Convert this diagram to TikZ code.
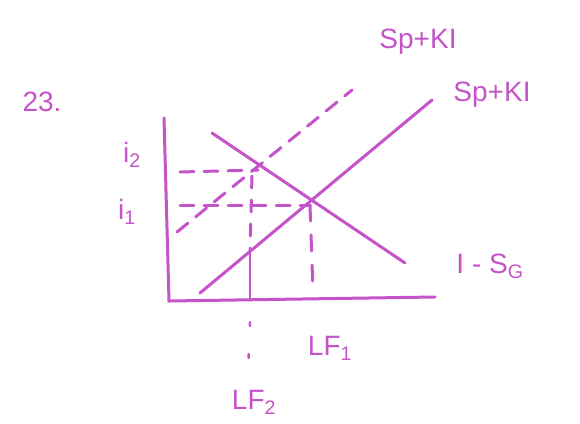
\documentclass[tikz,border=0pt]{standalone}
\usepackage{fontspec}
\setmainfont{Liberation Sans}
\begin{document}
\begin{tikzpicture}[x=1pt,y=-1pt,
  ink/.style={draw=pen,line width=3pt,line cap=round},
  dsh/.style={ink,dash pattern=on 14pt off 10pt},
  lbl/.style={text=pen,font=\fontsize{28}{28}\selectfont,inner sep=0pt}]
\definecolor{pen}{RGB}{196,84,200}
\useasboundingbox[fill=white] (0,0) rectangle (580,423);
% axes
\coordinate (ytop) at (164,118);
\coordinate (orig) at (169,301);
\coordinate (xend) at (435,297);
\draw[ink] (ytop) -- (orig) -- (xend);
% I - S_G
\coordinate (is1) at (212,133);
\coordinate (is2) at (405,263);
\draw[ink] (is1) -- (is2);
% Sp+KI solid
\coordinate (sk1) at (200,293);
\coordinate (sk2) at (432,100);
\draw[ink] (sk1) -- (sk2);
% Sp+KI dashed
\coordinate (dk1) at (177,232);
\coordinate (dk2) at (352,90);
\draw[dsh] (dk1) -- (dk2);
% equilibrium points
\coordinate (e1) at (310,205);
\coordinate (e2) at (258,170);
\coordinate (i1a) at (180,205);
\coordinate (i2a) at (180,172);
\draw[dsh] (i1a) -- (e1);
\draw[dsh] (i2a) -- (e2);
\coordinate (e1b) at (313,292);
\draw[ink,dash pattern=on 16pt off 14pt] (e1) -- (e1b);
\coordinate (v2top) at (252,176);
\coordinate (v2mid) at (250,250);
\coordinate (v2bot) at (250,300);
\coordinate (v2low) at (248,372);
\draw[ink,dash pattern=on 12pt off 12pt] (v2top) -- (v2mid);
\draw[ink,line width=2.4pt] (v2mid) -- (v2bot);
\draw[ink,line width=2.4pt,dash pattern=on 4pt off 28pt] (250,322) -- (v2low);
% labels
\node[lbl] (n23) at (42,102) {23.};
\node[lbl] (li2) at (132,155) {i\textsubscript{2}};
\node[lbl] (li1) at (127,212) {i\textsubscript{1}};
\node[lbl] (lsk1) at (418,42) {Sp+KI};
\node[lbl] (lsk2) at (492,95) {Sp+KI};
\node[lbl] (lis) at (490,266) {I - S\textsubscript{G}};
\node[lbl] (llf1) at (330,348) {LF\textsubscript{1}};
\node[lbl] (llf2) at (254,402) {LF\textsubscript{2}};
\end{tikzpicture}
\end{document}
